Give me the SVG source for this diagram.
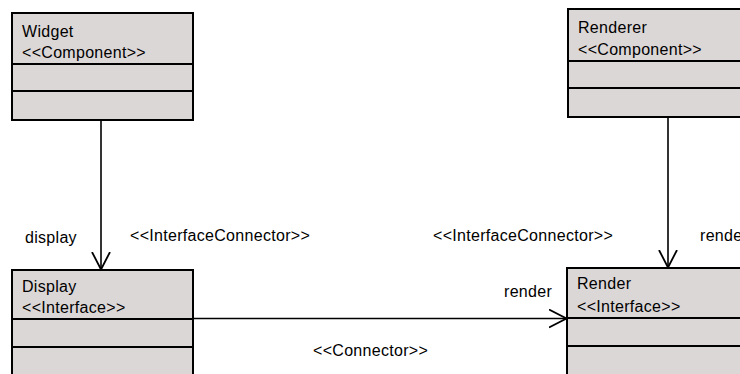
<svg xmlns="http://www.w3.org/2000/svg" width="740" height="374" viewBox="0 0 740 374">
  <style>
    .box { fill: #dcd7d7; stroke: #000; stroke-width: 2; }
    .div { stroke: #000; stroke-width: 1.8; }
    .edge { stroke: #000; stroke-width: 1.6; fill: none; }
    text { font-family: "Liberation Sans", Arial, sans-serif; font-size: 16px; fill: #000; letter-spacing: 0.3px; }
  </style>
  <defs>
    <marker id="open" viewBox="-18 -10 20 20" markerWidth="20" markerHeight="20" refX="0" refY="0" orient="auto" markerUnits="userSpaceOnUse">
      <path d="M -17.5 -9 L 0 0 L -17.5 9" fill="none" stroke="#000" stroke-width="1.8"/>
    </marker>
  </defs>
  <rect width="740" height="374" fill="#fff"/>
  <g id="connectors">
    <line class="edge" x1="101" y1="120" x2="101" y2="269.5" marker-end="url(#open)"/>
    <line class="edge" x1="668" y1="117" x2="668" y2="267.5" marker-end="url(#open)"/>
    <line class="edge" x1="193" y1="318.5" x2="566.5" y2="318.5" marker-end="url(#open)"/>
    <text x="25" y="243">display</text>
    <text x="130" y="241">&lt;&lt;InterfaceConnector&gt;&gt;</text>
    <text x="433" y="241">&lt;&lt;InterfaceConnector&gt;&gt;</text>
    <text x="700" y="241">render</text>
    <text x="504" y="297">render</text>
    <text x="313" y="356">&lt;&lt;Connector&gt;&gt;</text>
  </g>
  <g id="widget">
    <rect class="box" x="12" y="13" width="181" height="107"/>
    <line class="div" x1="12" y1="64" x2="193" y2="64"/>
    <line class="div" x1="12" y1="91" x2="193" y2="91"/>
    <text x="22" y="37">Widget</text>
    <text x="22" y="58">&lt;&lt;Component&gt;&gt;</text>
  </g>
  <g id="renderer">
    <rect class="box" x="568" y="9" width="200" height="108"/>
    <line class="div" x1="568" y1="61" x2="768" y2="61"/>
    <line class="div" x1="568" y1="88" x2="768" y2="88"/>
    <text x="578" y="33">Renderer</text>
    <text x="578" y="55">&lt;&lt;Component&gt;&gt;</text>
  </g>
  <g id="display">
    <rect class="box" x="12" y="270" width="181" height="120"/>
    <line class="div" x1="12" y1="319" x2="193" y2="319"/>
    <line class="div" x1="12" y1="347" x2="193" y2="347"/>
    <text x="22" y="292">Display</text>
    <text x="22" y="313">&lt;&lt;Interface&gt;&gt;</text>
  </g>
  <g id="render">
    <rect class="box" x="567" y="268" width="200" height="120"/>
    <line class="div" x1="567" y1="318" x2="767" y2="318"/>
    <line class="div" x1="567" y1="346" x2="767" y2="346"/>
    <text x="577" y="289">Render</text>
    <text x="577" y="312">&lt;&lt;Interface&gt;&gt;</text>
  </g>
</svg>
